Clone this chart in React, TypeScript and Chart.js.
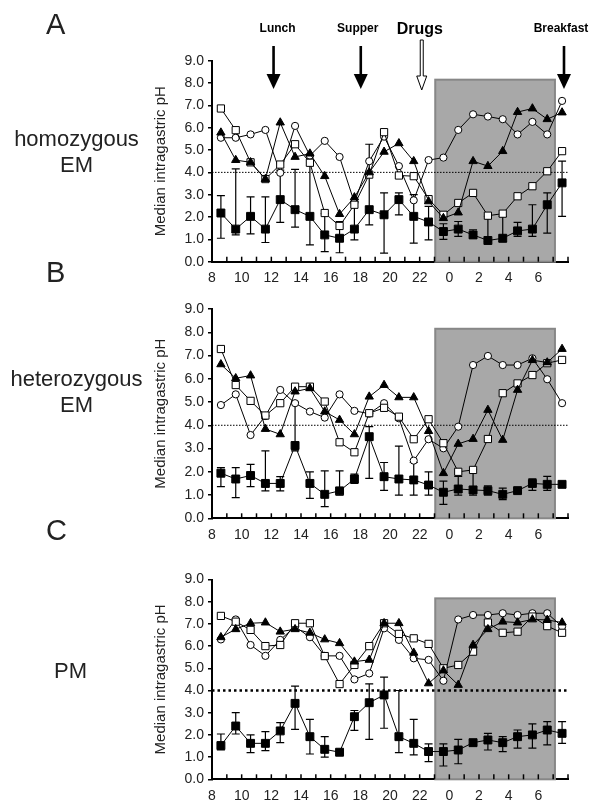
import React, { useEffect, useRef } from "react";
import { Chart, registerables } from "chart.js";
Chart.register(...registerables);

const FONT = '"Liberation Sans", Arial, sans-serif';

// Hour positions of the hourly medians (8 = 08:00 ... 31 = 07:00 next day)
const hours = [8.6, 9.6, 10.6, 11.6, 12.6, 13.6, 14.6, 15.6, 16.6, 17.6, 18.6, 19.6, 20.6, 21.6, 22.6, 23.6, 24.6, 25.6, 26.6, 27.6, 28.6, 29.6, 30.6, 31.6];
const xTickValues = [8, 10, 12, 14, 16, 18, 20, 22, 24, 26, 28, 30];
const xTickLabels = ["8", "10", "12", "14", "16", "18", "20", "22", "0", "2", "4", "6"];
const yTickLabels = ["0.0", "1.0", "2.0", "3.0", "4.0", "5.0", "6.0", "7.0", "8.0", "9.0"];

const nightStart = 23.05;
const nightEnd = 31.12;
const nightTop = 8.15;
const acidThreshold = 4.0;

const eventHours = [12.15, 18.03, 22.14, 31.73];
const eventLabels = ["Lunch", "Supper", "Drugs", "Breakfast"];

// Panel A – homozygous EM
const aFilledSq = [2.18, 1.46, 2.03, 1.46, 2.78, 2.33, 2.03, 1.2, 1.05, 1.46, 2.33, 2.1, 2.78, 2.03, 1.78, 1.35, 1.46, 1.2, 0.95, 1.05, 1.38, 1.46, 2.55, 3.53];
const aFilledSqLow = [1.05, 1.2, 1.25, 0.86, 1.76, 1.55, 0.75, 0.45, 0.4, 0.98, 1.65, 0.38, 2.1, 0.83, 0.98, 1.0, 1.13, 1.05, 0.9, 0.9, 1.13, 1.13, 1.28, 2.03];
const aFilledSqHigh = [2.96, 4.16, 2.9, 2.9, 4.1, 4.13, 4.7, 2.15, 1.8, 2.7, 5.26, 3.08, 3.08, 3.0, 2.48, 1.7, 1.8, 1.43, 2.03, 2.03, 1.76, 2.55, 3.08, 4.5];
const aOpenSq = [6.86, 5.89, 4.45, 3.7, 4.35, 5.26, 4.43, 2.18, 1.6, 2.55, 3.9, 5.8, 3.86, 3.83, 2.8, 2.1, 2.63, 3.08, 2.06, 2.15, 2.93, 3.38, 4.05, 4.95];
const aCircle = [5.55, 5.55, 5.7, 5.9, 3.98, 6.08, 4.75, 5.41, 4.69, 2.65, 4.5, 5.6, 4.28, 2.75, 4.55, 4.66, 5.9, 6.6, 6.5, 6.38, 5.7, 6.26, 5.7, 7.2];
const aTriangle = [5.78, 4.55, 4.45, 3.7, 6.23, 4.69, 4.84, 3.83, 2.13, 2.88, 4.0, 4.92, 5.3, 4.5, 2.7, 1.95, 2.2, 4.5, 4.28, 4.95, 6.7, 6.86, 6.38, 6.68];

// Panel B – heterozygous EM
const bFilledSq = [1.94, 1.69, 1.84, 1.5, 1.5, 3.13, 1.5, 1.03, 1.18, 1.69, 3.51, 1.79, 1.69, 1.65, 1.43, 1.12, 1.26, 1.22, 1.19, 1.03, 1.19, 1.5, 1.46, 1.46];
const bFilledSqLow = [1.36, 0.89, 1.36, 1.18, 1.18, 2.9, 0.86, 0.5, 1.0, 1.5, 1.72, 1.2, 1.0, 1.0, 1.0, 0.6, 1.0, 1.0, 1.0, 0.8, 1.1, 1.2, 1.2, 1.46];
const bFilledSqHigh = [2.18, 2.18, 2.32, 2.9, 1.79, 5.0, 2.0, 2.04, 2.04, 1.9, 3.94, 2.4, 3.1, 2.4, 2.0, 1.6, 1.8, 2.1, 1.4, 1.3, 1.3, 1.7, 1.8, 1.46];
const bOpenSq = [7.28, 5.73, 5.05, 4.42, 4.95, 5.66, 5.66, 5.02, 3.27, 2.84, 4.52, 4.75, 4.37, 3.4, 4.26, 3.23, 2.0, 2.08, 3.41, 5.38, 5.8, 6.16, 6.67, 6.81];
const bCircle = [4.87, 5.33, 3.58, 4.4, 5.52, 4.95, 4.59, 4.33, 5.33, 4.62, 4.5, 4.95, 4.3, 2.48, 3.4, 3.01, 3.94, 6.59, 6.98, 6.59, 6.59, 6.88, 5.98, 4.95];
const bTriangle = [6.62, 6.02, 6.14, 3.84, 3.61, 5.45, 5.59, 4.59, 4.23, 3.61, 5.23, 5.73, 5.2, 5.2, 3.75, 1.94, 3.2, 3.41, 4.66, 3.37, 5.52, 6.8, 6.7, 7.28];

// Panel C – PM
const cFilledSq = [1.52, 2.4, 1.62, 1.62, 2.18, 3.42, 1.92, 1.35, 1.22, 2.82, 3.45, 3.8, 1.92, 1.62, 1.25, 1.25, 1.32, 1.65, 1.77, 1.65, 1.92, 2.0, 2.22, 2.07];
const cFilledSqLow = [1.32, 2.04, 1.2, 1.29, 1.65, 2.25, 1.14, 1.0, 1.22, 2.2, 1.8, 2.3, 1.2, 1.1, 0.8, 0.6, 0.7, 1.55, 1.32, 1.25, 1.4, 1.4, 1.55, 1.62];
const cFilledSqHigh = [2.04, 3.0, 2.0, 2.15, 2.55, 4.2, 2.7, 1.92, 1.22, 3.1, 4.3, 4.6, 4.0, 2.7, 1.6, 1.6, 1.8, 1.75, 2.07, 1.92, 2.22, 2.5, 2.6, 2.6];
const cOpenSq = [7.36, 7.1, 6.73, 6.0, 6.05, 7.03, 7.03, 5.55, 4.29, 5.15, 6.0, 7.03, 6.55, 6.35, 6.1, 5.0, 5.15, 5.75, 7.06, 6.6, 6.65, 7.33, 6.9, 6.6];
const cCircle = [6.3, 7.2, 6.05, 5.56, 6.28, 6.88, 6.4, 5.56, 5.56, 4.5, 4.77, 6.8, 6.28, 5.45, 5.38, 4.44, 7.2, 7.4, 7.4, 7.48, 7.4, 7.48, 7.48, 6.88];
const cTriangle = [6.4, 6.76, 7.03, 7.06, 6.65, 6.76, 6.6, 6.3, 6.13, 5.3, 5.38, 7.03, 7.03, 5.7, 4.32, 4.9, 4.25, 6.05, 6.76, 7.1, 7.06, 7.2, 7.18, 7.06];

type PanelProps = {
  top: number;
  height: number;
  padTop: number;
  xAxisH: number;
  fs: number[];
  fsLow: number[];
  fsHigh: number[];
  osq: number[];
  circ: number[];
  tri: number[];
  boldDots: boolean;
  arrows: boolean;
};

function drawSolidArrow(ctx: CanvasRenderingContext2D, x: number) {
  ctx.fillStyle = "#000";
  ctx.fillRect(x - 1.3, 46, 2.6, 30);
  ctx.beginPath();
  ctx.moveTo(x - 7, 74);
  ctx.lineTo(x + 7, 74);
  ctx.lineTo(x, 89);
  ctx.closePath();
  ctx.fill();
}

function drawHollowArrow(ctx: CanvasRenderingContext2D, x: number) {
  ctx.strokeStyle = "#000";
  ctx.fillStyle = "#fff";
  ctx.lineWidth = 1;
  ctx.beginPath();
  ctx.moveTo(x - 1.5, 40);
  ctx.lineTo(x - 1.5, 76);
  ctx.lineTo(x - 5, 76);
  ctx.lineTo(x, 90);
  ctx.lineTo(x + 5, 76);
  ctx.lineTo(x + 1.5, 76);
  ctx.lineTo(x + 1.5, 40);
  ctx.closePath();
  ctx.fill();
  ctx.stroke();
}

function makePlugin(p: PanelProps) {
  return {
    id: "panelDeco",
    beforeDatasetsDraw(chart: any) {
      const { ctx, chartArea } = chart;
      const x = chart.scales.x;
      const y = chart.scales.y;
      ctx.save();
      // night shading
      const x0 = x.getPixelForValue(nightStart);
      const x1 = x.getPixelForValue(nightEnd);
      const yt = y.getPixelForValue(nightTop);
      const yb = y.getPixelForValue(0);
      ctx.fillStyle = "#a8a8a8";
      ctx.fillRect(x0, yt, x1 - x0, yb - yt);
      ctx.strokeStyle = "#878787";
      ctx.lineWidth = 2;
      ctx.strokeRect(x0, yt, x1 - x0, yb - yt);
      // pH 4 dotted line
      const yd = y.getPixelForValue(acidThreshold);
      ctx.strokeStyle = "#000";
      if (p.boldDots) {
        ctx.lineWidth = 2.5;
        ctx.setLineDash([2.5, 3]);
      } else {
        ctx.lineWidth = 1;
        ctx.setLineDash([1.5, 1.5]);
      }
      ctx.beginPath();
      ctx.moveTo(chartArea.left, yd);
      ctx.lineTo(chartArea.right, yd);
      ctx.stroke();
      ctx.setLineDash([]);
      // inside x tick marks (every hour)
      ctx.lineWidth = 1.5;
      for (let h = 9; h <= 32; h++) {
        const px = x.getPixelForValue(h);
        ctx.beginPath();
        ctx.moveTo(px, chartArea.bottom);
        ctx.lineTo(px, chartArea.bottom - 5);
        ctx.stroke();
      }
      // error bars
      ctx.lineWidth = 1.2;
      hours.forEach((h, i) => {
        const lo = p.fsLow[i];
        const hi = p.fsHigh[i];
        if (hi - lo < 0.05) return;
        const px = x.getPixelForValue(h);
        const pl = y.getPixelForValue(lo);
        const ph = y.getPixelForValue(hi);
        ctx.beginPath();
        ctx.moveTo(px, pl);
        ctx.lineTo(px, ph);
        ctx.moveTo(px - 4, pl);
        ctx.lineTo(px + 4, pl);
        ctx.moveTo(px - 4, ph);
        ctx.lineTo(px + 4, ph);
        ctx.stroke();
      });
      ctx.restore();
    },
    afterDraw(chart: any) {
      if (!p.arrows) return;
      const { ctx } = chart;
      const x = chart.scales.x;
      ctx.save();
      ctx.textAlign = "center";
      ctx.textBaseline = "alphabetic";
      eventHours.forEach((h, i) => {
        const px = x.getPixelForValue(h);
        const label = eventLabels[i];
        ctx.fillStyle = "#000";
        if (label === "Drugs") {
          ctx.font = `bold 16px ${FONT}`;
          ctx.fillText(label, px - 2, 34);
          drawHollowArrow(ctx, px);
        } else {
          ctx.font = `bold 12px ${FONT}`;
          const off = label === "Lunch" ? 4 : -3;
          ctx.fillText(label, px + off, 32);
          drawSolidArrow(ctx, px);
        }
      });
      ctx.restore();
    },
  };
}

function series(vals: number[], style: any) {
  return {
    data: hours.map((h, i) => ({ x: h, y: vals[i] })),
    showLine: true,
    borderColor: "#000",
    borderWidth: 1,
    tension: 0,
    pointBorderColor: "#000",
    pointBorderWidth: 1,
    ...style,
  };
}

function Panel(p: PanelProps) {
  const ref = useRef<HTMLCanvasElement>(null);
  useEffect(() => {
    const chart = new Chart(ref.current as HTMLCanvasElement, {
      type: "scatter",
      data: {
        datasets: [
          series(p.fs, { pointStyle: "rect", pointRadius: 5.6, pointBackgroundColor: "#000", order: 0 }),
          series(p.tri, { pointStyle: "triangle", pointRadius: 4.8, pointBackgroundColor: "#000", order: 1 }),
          series(p.osq, { pointStyle: "rect", pointRadius: 5.1, pointBackgroundColor: "#fff", order: 2 }),
          series(p.circ, { pointStyle: "circle", pointRadius: 3.6, pointBackgroundColor: "#fff", order: 3 }),
        ] as any,
      },
      options: {
        animation: false,
        responsive: false,
        devicePixelRatio: 1,
        events: [],
        layout: { padding: { left: 152, right: 32, top: p.padTop, bottom: 0 } },
        plugins: { legend: { display: false }, tooltip: { enabled: false } },
        scales: {
          x: {
            type: "linear",
            min: 8,
            max: 32,
            afterFit: (s: any) => {
              s.height = p.xAxisH;
            },
            ticks: {
              stepSize: 1,
              autoSkip: false,
              maxRotation: 0,
              padding: 8,
              color: "#222",
              font: { family: FONT, size: 14 },
              callback: (v: any) => {
                const i = xTickValues.indexOf(Number(v));
                return i >= 0 ? xTickLabels[i] : "";
              },
            },
            grid: { drawOnChartArea: false, drawTicks: false },
            border: { color: "#000", width: 2 },
          },
          y: {
            min: 0,
            max: 9,
            afterFit: (s: any) => {
              s.width = 60;
            },
            ticks: {
              stepSize: 1,
              padding: 4,
              color: "#222",
              font: { family: FONT, size: 14 },
              callback: (v: any) => yTickLabels[Math.round(Number(v))],
            },
            grid: { drawOnChartArea: false, drawTicks: true, tickLength: 4, color: "#000", lineWidth: 1.5 },
            border: { color: "#000", width: 2 },
            title: {
              display: true,
              text: "Median intragastric pH",
              color: "#222",
              font: { family: FONT, size: 15 },
              padding: { top: 0, bottom: 0 },
            },
          },
        },
      } as any,
      plugins: [makePlugin(p) as any],
    });
    return () => chart.destroy();
  }, []);
  return (
    <canvas
      ref={ref}
      width={600}
      height={p.height}
      style={{ position: "absolute", left: 0, top: p.top, width: 600, height: p.height }}
    />
  );
}

const labelStyle: React.CSSProperties = {
  position: "absolute",
  fontFamily: FONT,
  color: "#222",
  whiteSpace: "nowrap",
};

export default function App() {
  return (
    <div
      style={{
        position: "absolute",
        left: 0,
        top: 0,
        width: 600,
        height: 805,
        overflow: "hidden",
        background: "#fff",
      }}
    >
      <Panel top={0} height={290} padTop={60.7} xAxisH={28.3} fs={aFilledSq} fsLow={aFilledSqLow} fsHigh={aFilledSqHigh} osq={aOpenSq} circ={aCircle} tri={aTriangle} boldDots={false} arrows={true} />
      <Panel top={290} height={256} padTop={19} xAxisH={27.7} fs={bFilledSq} fsLow={bFilledSqLow} fsHigh={bFilledSqHigh} osq={bOpenSq} circ={bCircle} tri={bTriangle} boldDots={false} arrows={false} />
      <Panel top={546} height={259} padTop={33.5} xAxisH={25.7} fs={cFilledSq} fsLow={cFilledSqLow} fsHigh={cFilledSqHigh} osq={cOpenSq} circ={cCircle} tri={cTriangle} boldDots={true} arrows={false} />

      <div style={{ ...labelStyle, left: 46, top: 9.5, fontSize: 29, lineHeight: "29px" }}>A</div>
      <div style={{ ...labelStyle, left: 46, top: 257.5, fontSize: 29, lineHeight: "29px" }}>B</div>
      <div style={{ ...labelStyle, left: 46, top: 515.5, fontSize: 29, lineHeight: "29px" }}>C</div>

      <div style={{ ...labelStyle, left: 6, width: 141, top: 126.4, fontSize: 22, lineHeight: "26px", textAlign: "center" }}>
        homozygous
        <br />
        EM
      </div>
      <div style={{ ...labelStyle, left: 6, width: 141, top: 366.4, fontSize: 22, lineHeight: "26px", textAlign: "center" }}>
        heterozygous
        <br />
        EM
      </div>
      <div style={{ ...labelStyle, left: 54, top: 660.4, fontSize: 22, lineHeight: "22px" }}>PM</div>
    </div>
  );
}
